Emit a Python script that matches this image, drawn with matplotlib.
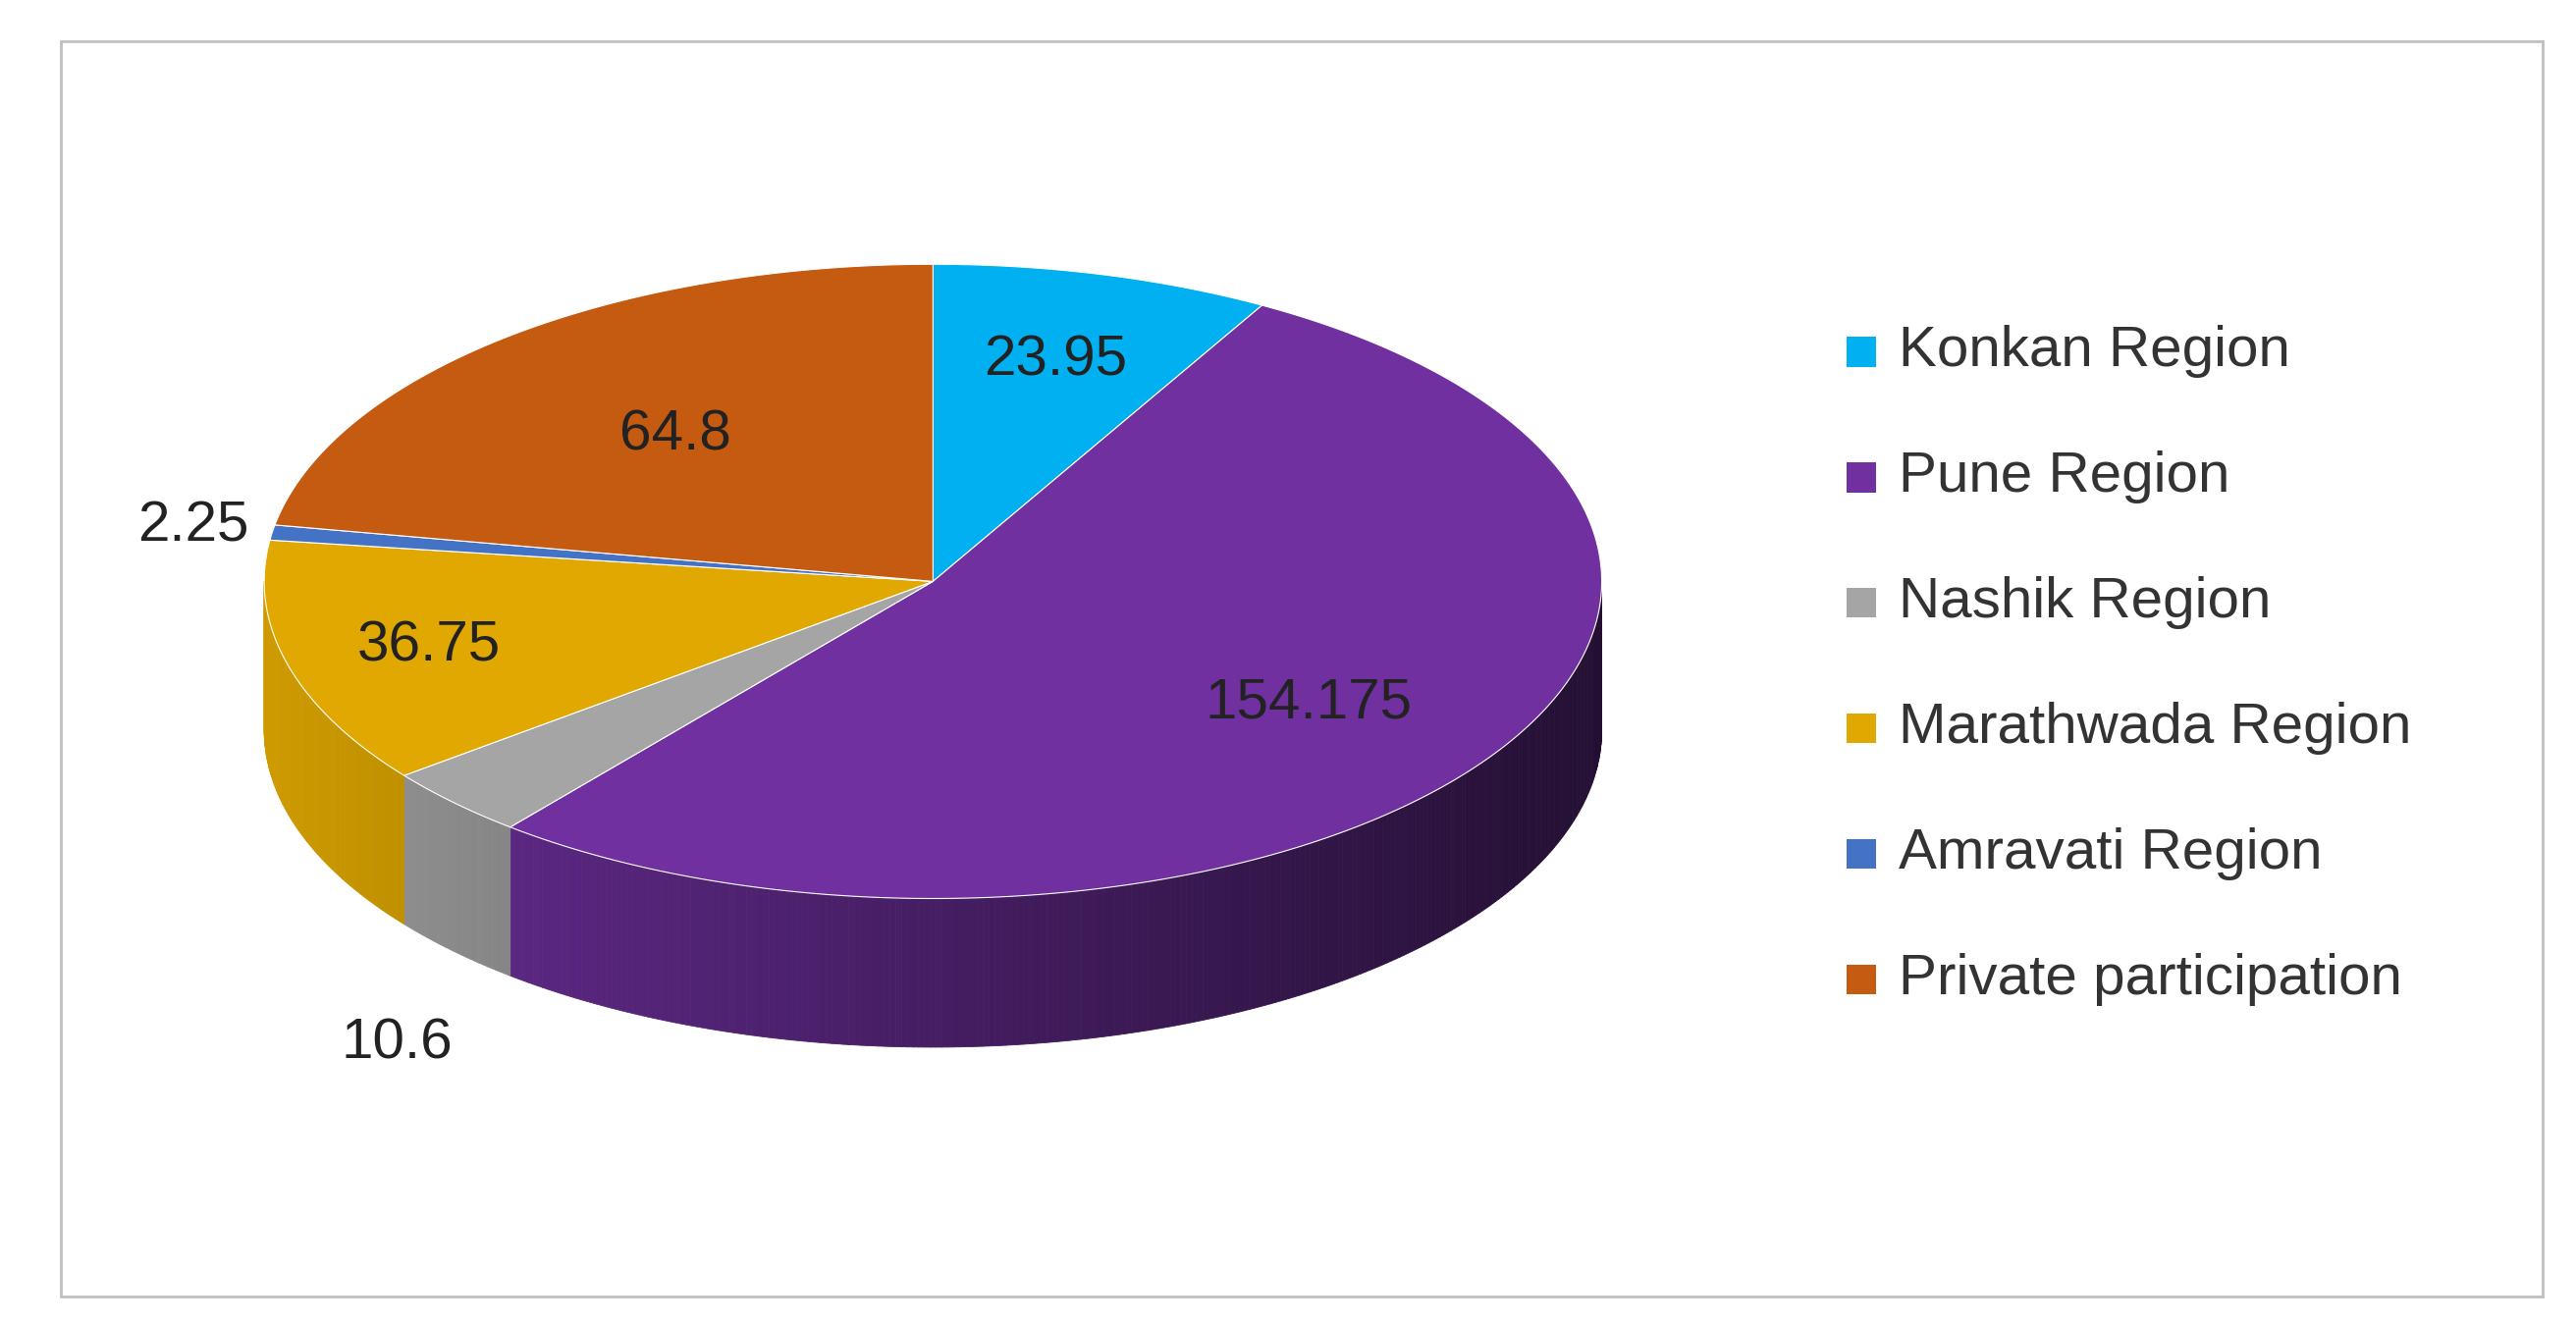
import numpy as np
import matplotlib
matplotlib.use("Agg")
import matplotlib.pyplot as plt
from matplotlib.patches import Polygon, Rectangle
from matplotlib.colors import to_rgb

regions = ["Konkan Region", "Pune Region", "Nashik Region",
           "Marathwada Region", "Amravati Region", "Private participation"]
values = [23.95, 154.175, 10.6, 36.75, 2.25, 64.8]
labels = ["23.95", "154.175", "10.6", "36.75", "2.25", "64.8"]
colors = ["#00B0F0", "#7030A0", "#A5A5A5", "#E0A800", "#4472C4", "#C55A11"]
label_r = [0.72, 0.68, 1.12, 0.78, 1.12, 0.6]

W, H = 1560, 801
fig = plt.figure(figsize=(26.24, 13.48), dpi=100)
ax = fig.add_axes([0, 0, 1, 1])
ax.set_xlim(0, W)
ax.set_ylim(H, 0)
ax.axis("off")

ax.add_patch(Rectangle((37, 25), 1503, 760, fill=False, edgecolor="#BFBFBF", lw=2))

cx, cy, a, b, depth = 565, 352, 405, 192, 90


def pt(phi):
    r = np.radians(phi)
    return cx + a * np.cos(r), cy - b * np.sin(r)


total = sum(values)
starts = []
phi = 90.0
for v in values:
    span = 360.0 * v / total
    starts.append((phi - span, phi))
    phi -= span

# side walls, in 1-degree strips with shading
for (p0, p1), c in zip(starts, colors):
    base = np.array(to_rgb(c))
    angs = np.arange(p0, p1, 0.5)
    angs = np.append(angs, p1)
    for q0, q1 in zip(angs[:-1], angs[1:]):
        m = (q0 + q1) / 2
        if np.sin(np.radians(m)) > 0:
            continue
        shade = 0.62 - 0.3 * np.cos(np.radians(m))
        col = np.clip(base * shade, 0, 1)
        x0, y0 = pt(q0)
        x1, y1 = pt(q1)
        ax.add_patch(Polygon([(x0, y0), (x1, y1), (x1, y1 + depth), (x0, y0 + depth)],
                             closed=True, facecolor=col, edgecolor=col, lw=0.6))

# top faces
for (p0, p1), c in zip(starts, colors):
    angs = np.linspace(p0, p1, 200)
    pts = [pt(q) for q in angs] + [(cx, cy)]
    ax.add_patch(Polygon(pts, closed=True, facecolor=c, edgecolor="white", lw=0.8))

# data labels
for (p0, p1), lab, r in zip(starts, labels, label_r):
    m = np.radians((p0 + p1) / 2)
    x = cx + a * r * np.cos(m)
    y = cy - b * r * np.sin(m)
    if lab == "10.6":
        y += depth + 40
    ax.text(x, y, lab, fontsize=42, ha="center", va="center",
            color="#222222", family="Liberation Sans")

# legend
for i, (name, c) in enumerate(zip(regions, colors)):
    y = 213 + 76 * i
    ax.add_patch(Rectangle((1118, y - 9), 18, 18, facecolor=c, edgecolor="none"))
    ax.text(1150, y, name, fontsize=42, va="center", ha="left",
            color="#333333", family="Liberation Sans")

plt.savefig("out.png", dpi=100)
